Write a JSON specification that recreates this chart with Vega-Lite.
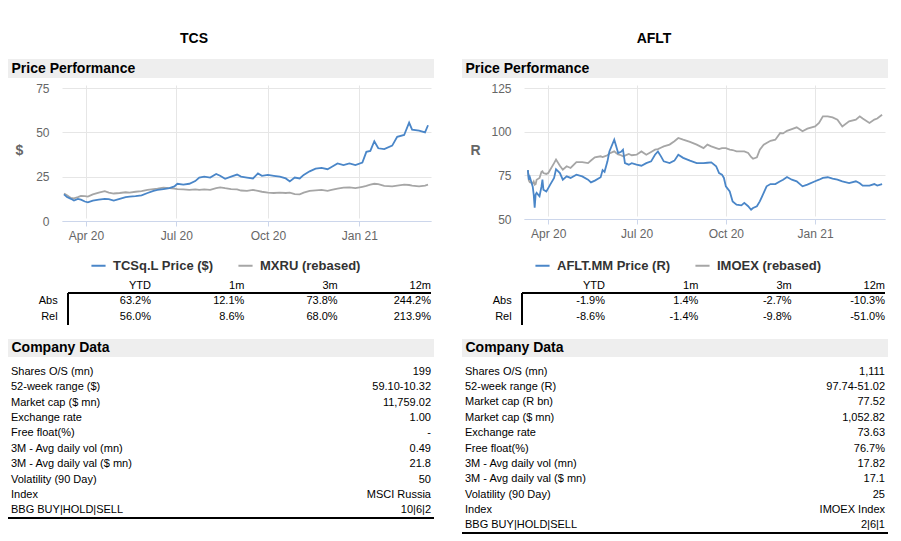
{
  "$schema": "https://vega.github.io/schema/vega-lite/v6.json",
  "background": "white",
  "padding": {"left": 7, "top": 32, "right": 6, "bottom": 4},
  "config": {
    "font": "Liberation Sans",
    "view": {"stroke": null},
    "text": {"font": "Liberation Sans", "fontSize": 11, "color": "black"},
    "axis": {"labelFont": "Liberation Sans", "titleFont": "Liberation Sans"},
    "legend": {"labelFont": "Liberation Sans"}
  },
  "resolve": {"scale": {"color": "independent"}, "legend": {"color": "independent"}},
  "datasets": {
    "tcs": [
      {"date": "2020-03-10", "p": 15.0, "i": 15.5},
      {"date": "2020-03-13", "p": 13.5, "i": 14.5},
      {"date": "2020-03-17", "p": 12.5, "i": 13.0},
      {"date": "2020-03-20", "p": 11.5, "i": 12.8},
      {"date": "2020-03-24", "p": 12.5, "i": 13.5},
      {"date": "2020-03-27", "p": 12.0, "i": 14.2},
      {"date": "2020-03-31", "p": 11.0, "i": 14.0},
      {"date": "2020-04-03", "p": 10.5, "i": 13.8},
      {"date": "2020-04-08", "p": 11.5, "i": 15.0},
      {"date": "2020-04-14", "p": 12.0, "i": 16.0},
      {"date": "2020-04-20", "p": 12.5, "i": 16.8},
      {"date": "2020-04-24", "p": 12.3, "i": 16.0},
      {"date": "2020-04-29", "p": 11.5, "i": 15.5},
      {"date": "2020-05-05", "p": 12.5, "i": 15.8},
      {"date": "2020-05-11", "p": 13.5, "i": 16.2},
      {"date": "2020-05-15", "p": 13.8, "i": 16.0},
      {"date": "2020-05-21", "p": 14.0, "i": 16.5},
      {"date": "2020-05-27", "p": 14.5, "i": 16.8},
      {"date": "2020-06-02", "p": 15.8, "i": 17.5},
      {"date": "2020-06-08", "p": 17.0, "i": 18.0},
      {"date": "2020-06-12", "p": 17.5, "i": 18.2},
      {"date": "2020-06-18", "p": 18.0, "i": 18.8},
      {"date": "2020-06-24", "p": 18.5, "i": 18.5},
      {"date": "2020-06-29", "p": 19.5, "i": 18.3},
      {"date": "2020-07-02", "p": 21.0, "i": 18.0},
      {"date": "2020-07-08", "p": 20.5, "i": 17.8},
      {"date": "2020-07-14", "p": 21.0, "i": 17.5},
      {"date": "2020-07-20", "p": 22.5, "i": 17.8},
      {"date": "2020-07-24", "p": 24.5, "i": 17.5},
      {"date": "2020-07-29", "p": 25.0, "i": 17.8},
      {"date": "2020-08-04", "p": 24.5, "i": 17.6},
      {"date": "2020-08-10", "p": 26.5, "i": 18.5},
      {"date": "2020-08-14", "p": 25.5, "i": 19.0},
      {"date": "2020-08-19", "p": 23.8, "i": 18.5},
      {"date": "2020-08-25", "p": 25.0, "i": 18.0},
      {"date": "2020-08-31", "p": 26.2, "i": 17.8},
      {"date": "2020-09-04", "p": 25.0, "i": 17.2},
      {"date": "2020-09-10", "p": 24.5, "i": 17.0},
      {"date": "2020-09-16", "p": 24.0, "i": 17.5},
      {"date": "2020-09-21", "p": 26.8, "i": 17.0},
      {"date": "2020-09-25", "p": 25.5, "i": 16.5},
      {"date": "2020-10-01", "p": 26.0, "i": 16.0},
      {"date": "2020-10-07", "p": 25.5, "i": 15.8},
      {"date": "2020-10-13", "p": 25.0, "i": 16.0},
      {"date": "2020-10-19", "p": 24.0, "i": 15.8},
      {"date": "2020-10-23", "p": 22.3, "i": 16.0},
      {"date": "2020-10-28", "p": 24.5, "i": 15.2},
      {"date": "2020-11-02", "p": 24.0, "i": 15.0},
      {"date": "2020-11-06", "p": 26.0, "i": 16.0},
      {"date": "2020-11-12", "p": 28.0, "i": 17.0},
      {"date": "2020-11-18", "p": 29.5, "i": 17.3},
      {"date": "2020-11-24", "p": 30.0, "i": 17.5},
      {"date": "2020-11-30", "p": 29.2, "i": 17.0},
      {"date": "2020-12-04", "p": 30.5, "i": 17.5},
      {"date": "2020-12-10", "p": 32.5, "i": 18.3},
      {"date": "2020-12-16", "p": 31.5, "i": 18.8},
      {"date": "2020-12-22", "p": 32.5, "i": 19.0},
      {"date": "2020-12-28", "p": 31.5, "i": 18.5},
      {"date": "2021-01-04", "p": 33.0, "i": 19.3},
      {"date": "2021-01-08", "p": 39.0, "i": 19.8},
      {"date": "2021-01-12", "p": 39.5, "i": 20.5},
      {"date": "2021-01-16", "p": 45.0, "i": 21.0},
      {"date": "2021-01-20", "p": 41.0, "i": 20.8},
      {"date": "2021-01-26", "p": 40.5, "i": 19.8},
      {"date": "2021-02-03", "p": 42.5, "i": 19.5},
      {"date": "2021-02-08", "p": 47.5, "i": 20.0},
      {"date": "2021-02-15", "p": 48.5, "i": 20.5},
      {"date": "2021-02-20", "p": 55.5, "i": 20.3},
      {"date": "2021-02-23", "p": 51.5, "i": 20.0},
      {"date": "2021-03-02", "p": 51.0, "i": 19.5},
      {"date": "2021-03-08", "p": 50.0, "i": 20.0},
      {"date": "2021-03-11", "p": 54.0, "i": 20.5}
    ],
    "aflt": [
      {"date": "2020-03-11", "p": 78.0, "i": 78.0},
      {"date": "2020-03-12", "p": 72.5, "i": 72.0},
      {"date": "2020-03-13", "p": 74.0, "i": 71.0},
      {"date": "2020-03-16", "p": 68.5, "i": 70.5},
      {"date": "2020-03-17", "p": 64.0, "i": 71.5},
      {"date": "2020-03-18", "p": 56.5, "i": 69.7},
      {"date": "2020-03-19", "p": 64.0, "i": 70.0},
      {"date": "2020-03-20", "p": 65.0, "i": 72.5},
      {"date": "2020-03-23", "p": 63.0, "i": 73.5},
      {"date": "2020-03-25", "p": 68.5, "i": 77.0},
      {"date": "2020-03-26", "p": 72.5, "i": 77.3},
      {"date": "2020-03-27", "p": 66.8, "i": 76.3},
      {"date": "2020-03-30", "p": 65.8, "i": 75.8},
      {"date": "2020-04-01", "p": 67.7, "i": 76.3},
      {"date": "2020-04-03", "p": 69.7, "i": 78.2},
      {"date": "2020-04-07", "p": 73.5, "i": 82.0},
      {"date": "2020-04-09", "p": 78.5, "i": 84.0},
      {"date": "2020-04-13", "p": 76.3, "i": 80.5},
      {"date": "2020-04-16", "p": 72.5, "i": 78.2},
      {"date": "2020-04-20", "p": 74.4, "i": 80.2},
      {"date": "2020-04-24", "p": 73.5, "i": 79.2},
      {"date": "2020-04-30", "p": 75.4, "i": 82.6},
      {"date": "2020-05-06", "p": 74.4, "i": 82.6},
      {"date": "2020-05-12", "p": 72.5, "i": 82.0},
      {"date": "2020-05-15", "p": 71.0, "i": 83.5},
      {"date": "2020-05-19", "p": 72.0, "i": 85.3},
      {"date": "2020-05-25", "p": 73.9, "i": 85.9},
      {"date": "2020-05-27", "p": 78.0, "i": 85.5},
      {"date": "2020-05-29", "p": 77.0, "i": 85.9},
      {"date": "2020-06-01", "p": 83.0, "i": 86.5},
      {"date": "2020-06-03", "p": 88.7, "i": 87.5},
      {"date": "2020-06-08", "p": 95.4, "i": 88.7},
      {"date": "2020-06-10", "p": 91.6, "i": 87.8},
      {"date": "2020-06-12", "p": 87.8, "i": 87.0},
      {"date": "2020-06-15", "p": 88.5, "i": 86.5},
      {"date": "2020-06-17", "p": 89.7, "i": 85.9},
      {"date": "2020-06-19", "p": 82.0, "i": 86.3},
      {"date": "2020-06-23", "p": 81.1, "i": 87.2},
      {"date": "2020-06-26", "p": 82.0, "i": 86.5},
      {"date": "2020-07-01", "p": 81.1, "i": 86.8},
      {"date": "2020-07-06", "p": 80.5, "i": 88.7},
      {"date": "2020-07-11", "p": 82.0, "i": 86.8},
      {"date": "2020-07-16", "p": 83.0, "i": 88.4},
      {"date": "2020-07-20", "p": 86.8, "i": 89.7},
      {"date": "2020-07-23", "p": 88.7, "i": 90.0},
      {"date": "2020-07-26", "p": 86.0, "i": 90.8},
      {"date": "2020-07-29", "p": 83.0, "i": 91.6},
      {"date": "2020-08-04", "p": 82.0, "i": 92.6},
      {"date": "2020-08-09", "p": 83.4, "i": 94.5},
      {"date": "2020-08-13", "p": 86.8, "i": 96.4},
      {"date": "2020-08-18", "p": 85.0, "i": 95.4},
      {"date": "2020-08-25", "p": 83.4, "i": 94.1},
      {"date": "2020-09-01", "p": 82.0, "i": 92.6},
      {"date": "2020-09-08", "p": 82.0, "i": 90.6},
      {"date": "2020-09-12", "p": 82.2, "i": 92.6},
      {"date": "2020-09-16", "p": 82.4, "i": 91.6},
      {"date": "2020-09-21", "p": 80.2, "i": 90.6},
      {"date": "2020-09-24", "p": 76.3, "i": 90.0},
      {"date": "2020-09-27", "p": 75.4, "i": 90.6},
      {"date": "2020-09-29", "p": 73.5, "i": 90.6},
      {"date": "2020-10-01", "p": 68.7, "i": 90.6},
      {"date": "2020-10-05", "p": 65.8, "i": 89.7},
      {"date": "2020-10-08", "p": 60.0, "i": 89.5},
      {"date": "2020-10-12", "p": 58.2, "i": 88.7},
      {"date": "2020-10-17", "p": 57.8, "i": 88.7},
      {"date": "2020-10-20", "p": 59.2, "i": 88.7},
      {"date": "2020-10-24", "p": 57.3, "i": 87.8},
      {"date": "2020-10-27", "p": 55.3, "i": 85.5},
      {"date": "2020-10-29", "p": 56.3, "i": 84.5},
      {"date": "2020-11-02", "p": 57.3, "i": 85.3},
      {"date": "2020-11-05", "p": 60.1, "i": 89.7},
      {"date": "2020-11-09", "p": 64.9, "i": 92.5},
      {"date": "2020-11-12", "p": 68.7, "i": 93.5},
      {"date": "2020-11-16", "p": 70.0, "i": 94.8},
      {"date": "2020-11-21", "p": 70.0, "i": 95.4},
      {"date": "2020-11-26", "p": 71.6, "i": 99.2},
      {"date": "2020-11-29", "p": 72.5, "i": 99.0},
      {"date": "2020-12-03", "p": 74.0, "i": 100.5},
      {"date": "2020-12-08", "p": 72.5, "i": 101.5},
      {"date": "2020-12-13", "p": 71.6, "i": 102.5},
      {"date": "2020-12-19", "p": 68.7, "i": 100.2},
      {"date": "2020-12-24", "p": 69.7, "i": 101.7},
      {"date": "2021-01-01", "p": 71.6, "i": 103.0},
      {"date": "2021-01-05", "p": 72.5, "i": 105.0},
      {"date": "2021-01-09", "p": 73.5, "i": 108.8},
      {"date": "2021-01-14", "p": 73.9, "i": 108.8},
      {"date": "2021-01-19", "p": 73.1, "i": 108.2},
      {"date": "2021-01-24", "p": 72.5, "i": 106.9},
      {"date": "2021-01-29", "p": 71.6, "i": 103.0},
      {"date": "2021-02-05", "p": 70.6, "i": 105.9},
      {"date": "2021-02-12", "p": 71.6, "i": 106.9},
      {"date": "2021-02-16", "p": 70.5, "i": 108.8},
      {"date": "2021-02-19", "p": 69.1, "i": 107.5},
      {"date": "2021-02-26", "p": 69.1, "i": 105.0},
      {"date": "2021-03-03", "p": 70.0, "i": 106.9},
      {"date": "2021-03-06", "p": 69.1, "i": 107.5},
      {"date": "2021-03-11", "p": 70.0, "i": 109.7}
    ],
    "retL": [
      {"row": "Abs", "period": "YTD", "value": "63.2%"},
      {"row": "Abs", "period": "1m", "value": "12.1%"},
      {"row": "Abs", "period": "3m", "value": "73.8%"},
      {"row": "Abs", "period": "12m", "value": "244.2%"},
      {"row": "Rel", "period": "YTD", "value": "56.0%"},
      {"row": "Rel", "period": "1m", "value": "8.6%"},
      {"row": "Rel", "period": "3m", "value": "68.0%"},
      {"row": "Rel", "period": "12m", "value": "213.9%"}
    ],
    "retR": [
      {"row": "Abs", "period": "YTD", "value": "-1.9%"},
      {"row": "Abs", "period": "1m", "value": "1.4%"},
      {"row": "Abs", "period": "3m", "value": "-2.7%"},
      {"row": "Abs", "period": "12m", "value": "-10.3%"},
      {"row": "Rel", "period": "YTD", "value": "-8.6%"},
      {"row": "Rel", "period": "1m", "value": "-1.4%"},
      {"row": "Rel", "period": "3m", "value": "-9.8%"},
      {"row": "Rel", "period": "12m", "value": "-51.0%"}
    ],
    "cdL": [
      {"k": "Shares O/S (mn)", "v": "199"},
      {"k": "52-week range ($)", "v": "59.10-10.32"},
      {"k": "Market cap ($ mn)", "v": "11,759.02"},
      {"k": "Exchange rate", "v": "1.00"},
      {"k": "Free float(%)", "v": "-"},
      {"k": "3M - Avg daily vol (mn)", "v": "0.49"},
      {"k": "3M - Avg daily val ($ mn)", "v": "21.8"},
      {"k": "Volatility (90 Day)", "v": "50"},
      {"k": "Index", "v": "MSCI Russia"},
      {"k": "BBG BUY|HOLD|SELL", "v": "10|6|2"}
    ],
    "cdR": [
      {"k": "Shares O/S (mn)", "v": "1,111"},
      {"k": "52-week range (R)", "v": "97.74-51.02"},
      {"k": "Market cap (R bn)", "v": "77.52"},
      {"k": "Market cap ($ mn)", "v": "1,052.82"},
      {"k": "Exchange rate", "v": "73.63"},
      {"k": "Free float(%)", "v": "76.7%"},
      {"k": "3M - Avg daily vol (mn)", "v": "17.82"},
      {"k": "3M - Avg daily val ($ mn)", "v": "17.1"},
      {"k": "Volatility (90 Day)", "v": "25"},
      {"k": "Index", "v": "IMOEX Index"},
      {"k": "BBG BUY|HOLD|SELL", "v": "2|6|1"}
    ]
  },
  "columns": 2,
  "align": "each",
  "bounds": "flush",
  "spacing": {"row": 7, "column": 28},
  "concat": [
    {
      "width": 426, "height": 19,
      "view": {"fill": "#eeeeee", "stroke": null},
      "title": {"text": "TCS", "fontSize": 14, "fontWeight": "bold", "color": "black", "anchor": "middle", "dx": -27, "offset": 13},
      "data": {"values": [{"t": "Price Performance"}]},
      "mark": {"type": "text", "align": "left", "baseline": "middle", "fontSize": 14, "fontWeight": "bold", "dx": 3.5},
      "encoding": {"text": {"field": "t"}, "x": {"datum": 0, "type": "quantitative", "scale": {"domain": [0, 1]}, "axis": null}}
    },
    {
      "width": 426, "height": 19,
      "view": {"fill": "#eeeeee", "stroke": null},
      "title": {"text": "AFLT", "fontSize": 14, "fontWeight": "bold", "color": "black", "anchor": "middle", "dx": -21, "offset": 13},
      "data": {"values": [{"t": "Price Performance"}]},
      "mark": {"type": "text", "align": "left", "baseline": "middle", "fontSize": 14, "fontWeight": "bold", "dx": 3.5},
      "encoding": {"text": {"field": "t"}, "x": {"datum": 0, "type": "quantitative", "scale": {"domain": [0, 1]}, "axis": null}}
    },
    {
      "width": 423, "height": 136,
      "data": {"name": "tcs"},
      "transform": [{"fold": ["i", "p"], "as": ["s", "v"]}],
      "mark": {"type": "line", "strokeWidth": 1.8},
      "encoding": {
        "x": {"field": "date", "type": "temporal",
          "scale": {"type": "utc", "range": [54, 423], "domain": [{"year": 2020, "month": 3, "date": 8, "utc": true}, {"year": 2021, "month": 3, "date": 14, "utc": true}]},
          "axis": {"title": null, "format": "%b %y", "tickCount": {"interval": "month", "step": 3}, "grid": true, "gridColor": "#e6e6e6", "domainColor": "#ccd6eb", "tickColor": "#ccd6eb", "tickSize": 5, "labelColor": "#666666", "labelFontSize": 12, "labelPadding": 4}},
        "y": {"field": "v", "type": "quantitative",
          "scale": {"domain": [0, 75], "nice": false, "range": [136, 3]},
          "axis": {"values": [0, 25, 50, 75], "offset": -54, "title": "$", "titleAngle": 0, "titleX": -43, "titleY": 65, "titleAlign": "center", "titleBaseline": "middle", "titleFontSize": 14, "titleFontWeight": "bold", "titleColor": "#666666", "ticks": false, "domain": false, "labelPadding": 13, "labelColor": "#666666", "labelFontSize": 12, "grid": true, "gridColor": "#e6e6e6"}},
        "color": {"field": "s", "type": "nominal",
          "scale": {"domain": ["p", "i"], "range": ["#4a86c8", "#a6a6a6"]},
          "legend": {"orient": "none", "legendX": 82, "legendY": 172, "direction": "horizontal", "title": null, "symbolType": "stroke", "symbolStrokeWidth": 2, "symbolSize": 200, "labelFontSize": 13, "labelFontWeight": "bold", "labelColor": "#333333", "columnPadding": 20, "labelOffset": 6, "padding": 0,
            "labelExpr": "datum.value == 'p' ? 'TCSq.L Price ($)' : 'MXRU (rebased)'"}}
      }
    },
    {
      "width": 423, "height": 134,
      "data": {"name": "aflt"},
      "transform": [{"fold": ["i", "p"], "as": ["s", "v"]}],
      "mark": {"type": "line", "strokeWidth": 1.8},
      "encoding": {
        "x": {"field": "date", "type": "temporal",
          "scale": {"type": "utc", "range": [62, 423], "domain": [{"year": 2020, "month": 3, "date": 7, "utc": true}, {"year": 2021, "month": 3, "date": 14, "utc": true}]},
          "axis": {"title": null, "format": "%b %y", "tickCount": {"interval": "month", "step": 3}, "grid": true, "gridColor": "#e6e6e6", "domainColor": "#ccd6eb", "tickColor": "#ccd6eb", "tickSize": 5, "labelColor": "#666666", "labelFontSize": 12, "labelPadding": 4}},
        "y": {"field": "v", "type": "quantitative",
          "scale": {"domain": [50, 125], "nice": false, "zero": false, "range": [134, 3]},
          "axis": {"values": [50, 75, 100, 125], "offset": -62, "title": "R", "titleAngle": 0, "titleX": -49, "titleY": 65, "titleAlign": "center", "titleBaseline": "middle", "titleFontSize": 14, "titleFontWeight": "bold", "titleColor": "#666666", "ticks": false, "domain": false, "labelPadding": 13, "labelColor": "#666666", "labelFontSize": 12, "grid": true, "gridColor": "#e6e6e6"}},
        "color": {"field": "s", "type": "nominal",
          "scale": {"domain": ["p", "i"], "range": ["#4a86c8", "#a6a6a6"]},
          "legend": {"orient": "none", "legendX": 72, "legendY": 172, "direction": "horizontal", "title": null, "symbolType": "stroke", "symbolStrokeWidth": 2, "symbolSize": 200, "labelFontSize": 13, "labelFontWeight": "bold", "labelColor": "#333333", "columnPadding": 20, "labelOffset": 6, "padding": 0,
            "labelExpr": "datum.value == 'p' ? 'AFLT.MM Price (R)' : 'IMOEX (rebased)'"}}
      }
    },
    {
      "width": 426, "height": 104,
      "data": {"name": "retL"},
      "encoding": {
        "x": {"field": "period", "type": "nominal", "scale": {"type": "band", "domain": ["YTD", "1m", "3m", "12m"], "paddingInner": 0, "paddingOuter": 0.2822, "align": 0.943}, "axis": null},
        "y": {"field": "row", "type": "nominal", "scale": {"type": "band", "domain": ["Abs", "Rel"], "range": [65, 97], "paddingInner": 0, "paddingOuter": 0}, "axis": null}
      },
      "layer": [
        {"mark": {"type": "rule", "color": "black", "strokeWidth": 1.2},
         "encoding": {"x": {"datum": "YTD", "type": "nominal", "bandPosition": 0.111}, "x2": {"datum": "12m", "bandPosition": 1}, "y": {"datum": "Abs", "type": "nominal", "bandPosition": 0}}},
        {"mark": {"type": "rule", "color": "black", "strokeWidth": 1.2},
         "encoding": {"x": {"datum": "YTD", "type": "nominal", "bandPosition": 0.111}, "y": {"datum": "Abs", "type": "nominal", "bandPosition": 0}, "y2": {"datum": "Rel", "bandPosition": 1}}},
        {"mark": {"type": "text", "align": "right", "baseline": "middle"},
         "encoding": {"x": {"field": "period", "type": "nominal", "bandPosition": 1}, "text": {"field": "value"}}},
        {"transform": [{"filter": "datum.row == 'Abs'"}],
         "mark": {"type": "text", "align": "right", "baseline": "bottom", "dy": -2},
         "encoding": {"x": {"field": "period", "type": "nominal", "bandPosition": 1}, "y": {"datum": "Abs", "type": "nominal", "bandPosition": 0}, "text": {"field": "period"}}},
        {"transform": [{"filter": "datum.period == 'YTD'"}],
         "mark": {"type": "text", "align": "right", "baseline": "middle"},
         "encoding": {"x": {"datum": "YTD", "type": "nominal", "bandPosition": 0}, "text": {"field": "row"}}}
      ]
    },
    {
      "width": 426, "height": 104,
      "data": {"name": "retR"},
      "encoding": {
        "x": {"field": "period", "type": "nominal", "scale": {"type": "band", "domain": ["YTD", "1m", "3m", "12m"], "paddingInner": 0, "paddingOuter": 0.2822, "align": 0.943}, "axis": null},
        "y": {"field": "row", "type": "nominal", "scale": {"type": "band", "domain": ["Abs", "Rel"], "range": [65, 97], "paddingInner": 0, "paddingOuter": 0}, "axis": null}
      },
      "layer": [
        {"mark": {"type": "rule", "color": "black", "strokeWidth": 1.2},
         "encoding": {"x": {"datum": "YTD", "type": "nominal", "bandPosition": 0.111}, "x2": {"datum": "12m", "bandPosition": 1}, "y": {"datum": "Abs", "type": "nominal", "bandPosition": 0}}},
        {"mark": {"type": "rule", "color": "black", "strokeWidth": 1.2},
         "encoding": {"x": {"datum": "YTD", "type": "nominal", "bandPosition": 0.111}, "y": {"datum": "Abs", "type": "nominal", "bandPosition": 0}, "y2": {"datum": "Rel", "bandPosition": 1}}},
        {"mark": {"type": "text", "align": "right", "baseline": "middle"},
         "encoding": {"x": {"field": "period", "type": "nominal", "bandPosition": 1}, "text": {"field": "value"}}},
        {"transform": [{"filter": "datum.row == 'Abs'"}],
         "mark": {"type": "text", "align": "right", "baseline": "bottom", "dy": -2},
         "encoding": {"x": {"field": "period", "type": "nominal", "bandPosition": 1}, "y": {"datum": "Abs", "type": "nominal", "bandPosition": 0}, "text": {"field": "period"}}},
        {"transform": [{"filter": "datum.period == 'YTD'"}],
         "mark": {"type": "text", "align": "right", "baseline": "middle"},
         "encoding": {"x": {"datum": "YTD", "type": "nominal", "bandPosition": 0}, "text": {"field": "row"}}}
      ]
    },
    {
      "width": 426, "height": 18,
      "view": {"fill": "#eeeeee", "stroke": null},
      "data": {"values": [{"t": "Company Data"}]},
      "mark": {"type": "text", "align": "left", "baseline": "middle", "fontSize": 14, "fontWeight": "bold", "dx": 3.5},
      "encoding": {"text": {"field": "t"}, "x": {"datum": 0, "type": "quantitative", "scale": {"domain": [0, 1]}, "axis": null}}
    },
    {
      "width": 426, "height": 18,
      "view": {"fill": "#eeeeee", "stroke": null},
      "data": {"values": [{"t": "Company Data"}]},
      "mark": {"type": "text", "align": "left", "baseline": "middle", "fontSize": 14, "fontWeight": "bold", "dx": 3.5},
      "encoding": {"text": {"field": "t"}, "x": {"datum": 0, "type": "quantitative", "scale": {"domain": [0, 1]}, "axis": null}}
    },
    {
      "width": 426, "height": 154,
      "data": {"name": "cdL"},
      "encoding": {
        "y": {"field": "k", "type": "nominal", "sort": null, "scale": {"type": "band", "paddingInner": 0, "paddingOuter": 0}, "axis": null}
      },
      "layer": [
        {"mark": {"type": "text", "align": "left", "baseline": "middle", "dx": 3},
         "encoding": {"x": {"datum": 0, "type": "quantitative", "scale": {"domain": [0, 1]}, "axis": null}, "text": {"field": "k"}}},
        {"mark": {"type": "text", "align": "right", "baseline": "middle", "dx": -3},
         "encoding": {"x": {"datum": 1, "type": "quantitative"}, "text": {"field": "v"}}},
        {"mark": {"type": "rule", "color": "black", "strokeWidth": 1.5},
         "encoding": {"x": {"datum": 0, "type": "quantitative"}, "x2": {"datum": 1}, "y": {"datum": "BBG BUY|HOLD|SELL", "type": "nominal", "bandPosition": 1}}}
      ]
    },
    {
      "width": 426, "height": 169,
      "data": {"name": "cdR"},
      "encoding": {
        "y": {"field": "k", "type": "nominal", "sort": null, "scale": {"type": "band", "paddingInner": 0, "paddingOuter": 0}, "axis": null}
      },
      "layer": [
        {"mark": {"type": "text", "align": "left", "baseline": "middle", "dx": 3},
         "encoding": {"x": {"datum": 0, "type": "quantitative", "scale": {"domain": [0, 1]}, "axis": null}, "text": {"field": "k"}}},
        {"mark": {"type": "text", "align": "right", "baseline": "middle", "dx": -3},
         "encoding": {"x": {"datum": 1, "type": "quantitative"}, "text": {"field": "v"}}},
        {"mark": {"type": "rule", "color": "black", "strokeWidth": 1.5},
         "encoding": {"x": {"datum": 0, "type": "quantitative"}, "x2": {"datum": 1}, "y": {"datum": "BBG BUY|HOLD|SELL", "type": "nominal", "bandPosition": 1}}}
      ]
    }
  ]
}
